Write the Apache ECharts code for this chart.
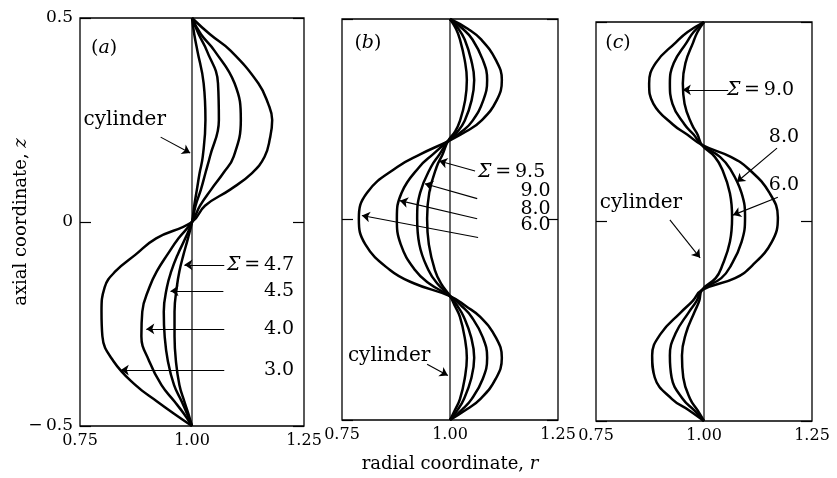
<!DOCTYPE html>
<html>
<head>
<meta charset="utf-8">
<script src="https://cdn.jsdelivr.net/npm/echarts@6/dist/echarts.min.js"></script>
<style>
html,body{margin:0;padding:0;background:#fff;}
#chart{width:837px;height:478px;}
</style>
</head>
<body>
<div id="chart"></div>
<script>
// ---- tick values ----
const R_TICKS = [0.75, 1.00, 1.25];
const Z_TICKS = [-0.5, 0, 0.5];

// ---- panel (a): [r, z] ----
const A_SIGMA_30 = [[1.000,0.500],[1.040,0.460],[1.086,0.420],[1.148,0.340],[1.170,0.290],[1.179,0.250],[1.174,0.205],[1.162,0.160],[1.134,0.120],[1.086,0.080],[1.029,0.040],[1.000,0.000],[0.920,-0.040],[0.874,-0.080],[0.830,-0.120],[0.805,-0.160],[0.798,-0.220],[0.800,-0.280],[0.824,-0.340],[0.874,-0.400],[0.922,-0.440],[0.960,-0.470],[1.000,-0.500]];
const A_SIGMA_40 = [[1.000,0.500],[1.020,0.460],[1.050,0.420],[1.095,0.340],[1.109,0.250],[1.093,0.160],[1.070,0.120],[1.043,0.080],[1.018,0.040],[1.000,0.000],[0.970,-0.040],[0.945,-0.080],[0.922,-0.120],[0.905,-0.160],[0.889,-0.220],[0.887,-0.280],[0.904,-0.340],[0.932,-0.400],[0.961,-0.440],[0.982,-0.470],[1.000,-0.500]];
const A_SIGMA_45 = [[1.000,0.500],[1.015,0.460],[1.033,0.420],[1.058,0.340],[1.060,0.250],[1.040,0.160],[1.030,0.120],[1.020,0.080],[1.008,0.040],[1.000,0.000],[0.985,-0.040],[0.968,-0.080],[0.954,-0.120],[0.944,-0.160],[0.937,-0.220],[0.939,-0.280],[0.946,-0.340],[0.960,-0.400],[0.977,-0.440],[0.989,-0.470],[1.000,-0.500]];
const A_SIGMA_47 = [[1.000,0.500],[1.005,0.460],[1.012,0.420],[1.026,0.340],[1.030,0.250],[1.024,0.160],[1.017,0.120],[1.011,0.080],[1.005,0.040],[1.000,0.000],[0.991,-0.040],[0.981,-0.080],[0.972,-0.120],[0.966,-0.160],[0.961,-0.220],[0.961,-0.280],[0.964,-0.340],[0.972,-0.400],[0.983,-0.440],[0.992,-0.470],[1.000,-0.500]];

// ---- panel (b) ----
const B_SIGMA_60 = [[1.000,0.500],[1.042,0.475],[1.072,0.449],[1.106,0.398],[1.120,0.348],[1.108,0.297],[1.072,0.246],[1.038,0.220],[0.995,0.195],[0.932,0.163],[0.878,0.131],[0.808,0.067],[0.789,0.002],[0.804,-0.062],[0.861,-0.126],[0.916,-0.159],[1.000,-0.191],[1.038,-0.217],[1.070,-0.243],[1.106,-0.294],[1.120,-0.345],[1.106,-0.397],[1.070,-0.448],[1.038,-0.474],[1.000,-0.500]];
const B_SIGMA_80 = [[1.000,0.500],[1.030,0.475],[1.052,0.449],[1.076,0.398],[1.086,0.348],[1.077,0.297],[1.052,0.246],[1.028,0.220],[0.995,0.195],[0.961,0.163],[0.929,0.131],[0.888,0.067],[0.877,0.002],[0.886,-0.062],[0.919,-0.126],[0.951,-0.159],[1.000,-0.191],[1.028,-0.217],[1.050,-0.243],[1.076,-0.294],[1.086,-0.345],[1.076,-0.397],[1.050,-0.448],[1.028,-0.474],[1.000,-0.500]];
const B_SIGMA_90 = [[1.000,0.500],[1.020,0.475],[1.034,0.449],[1.049,0.398],[1.056,0.348],[1.050,0.297],[1.034,0.246],[1.018,0.220],[0.995,0.195],[0.976,0.163],[0.956,0.131],[0.931,0.067],[0.924,0.002],[0.929,-0.062],[0.950,-0.126],[0.970,-0.159],[1.000,-0.191],[1.018,-0.217],[1.032,-0.243],[1.049,-0.294],[1.056,-0.345],[1.049,-0.397],[1.032,-0.448],[1.018,-0.474],[1.000,-0.500]];
const B_SIGMA_95 = [[1.000,0.500],[1.014,0.475],[1.023,0.449],[1.034,0.398],[1.039,0.348],[1.035,0.297],[1.023,0.246],[1.012,0.220],[0.995,0.195],[0.983,0.163],[0.969,0.131],[0.952,0.067],[0.947,0.002],[0.951,-0.062],[0.965,-0.126],[0.979,-0.159],[1.000,-0.191],[1.012,-0.217],[1.023,-0.243],[1.034,-0.294],[1.039,-0.345],[1.034,-0.397],[1.023,-0.448],[1.012,-0.474],[1.000,-0.500]];

// ---- panel (c) ----
const C_SIGMA_60 = [[1.000,0.500],[0.962,0.475],[0.935,0.449],[0.888,0.397],[0.873,0.346],[0.883,0.295],[0.928,0.243],[0.961,0.218],[0.995,0.192],[1.062,0.162],[1.104,0.131],[1.152,0.071],[1.171,0.010],[1.157,-0.051],[1.111,-0.111],[1.072,-0.142],[0.995,-0.172],[0.974,-0.199],[0.947,-0.227],[0.900,-0.281],[0.880,-0.336],[0.886,-0.391],[0.926,-0.445],[0.965,-0.473],[1.000,-0.500]];
const C_SIGMA_80 = [[1.000,0.500],[0.976,0.475],[0.960,0.449],[0.930,0.397],[0.921,0.346],[0.927,0.295],[0.955,0.243],[0.976,0.218],[0.995,0.192],[1.037,0.162],[1.061,0.131],[1.087,0.071],[1.095,0.010],[1.087,-0.051],[1.062,-0.111],[1.040,-0.142],[0.995,-0.172],[0.983,-0.199],[0.965,-0.227],[0.934,-0.281],[0.921,-0.336],[0.925,-0.391],[0.951,-0.445],[0.977,-0.473],[1.000,-0.500]];
const C_SIGMA_90 = [[1.000,0.500],[0.985,0.475],[0.975,0.449],[0.957,0.397],[0.951,0.346],[0.955,0.295],[0.972,0.243],[0.985,0.218],[0.995,0.192],[1.025,0.162],[1.042,0.131],[1.060,0.071],[1.065,0.010],[1.060,-0.051],[1.042,-0.111],[1.027,-0.142],[0.995,-0.172],[0.989,-0.199],[0.978,-0.227],[0.958,-0.281],[0.949,-0.336],[0.952,-0.391],[0.968,-0.445],[0.985,-0.473],[1.000,-0.500]];

const CYLINDER = [[1.0,-0.5],[1.0,0.5]];

const FONT = 'DejaVu Serif';
const BLACK = '#000';

const panels = [
  { grid:{left:80, top:18, width:224, height:408},
    curves:[A_SIGMA_30, A_SIGMA_40, A_SIGMA_45, A_SIGMA_47],
    arrows:[
      [[0.930,0.208],[0.996,0.169]],
      [[1.072,-0.105],[0.983,-0.105]],
      [[1.070,-0.169],[0.952,-0.169]],
      [[1.072,-0.262],[0.898,-0.262]],
      [[1.072,-0.363],[0.841,-0.363]]
    ],
    texts:[
      {p:[0.804,0.426], t:'({i|a})', a:'center'},
      {p:[0.850,0.250], t:'{w|cylinder}', a:'center'},
      {p:[1.228,-0.105], t:'{i|Σ}\u2009=\u20094.7', a:'right'},
      {p:[1.228,-0.169], t:'4.5', a:'right'},
      {p:[1.228,-0.262], t:'4.0', a:'right'},
      {p:[1.228,-0.363], t:'3.0', a:'right'}
    ]},
  { grid:{left:342, top:19, width:216, height:404},
    curves:[B_SIGMA_60, B_SIGMA_80, B_SIGMA_90, B_SIGMA_95],
    arrows:[
      [[1.058,0.121],[0.975,0.146]],
      [[1.063,0.052],[0.942,0.089]],
      [[1.063,0.002],[0.884,0.047]],
      [[1.065,-0.045],[0.796,0.010]],
      [[0.947,-0.361],[0.995,-0.389]]
    ],
    texts:[
      {p:[0.810,0.441], t:'({i|b})', a:'center'},
      {p:[1.065,0.119], t:'{i|Σ}\u2009=\u20099.5', a:'left'},
      {p:[1.233,0.072], t:'9.0', a:'right'},
      {p:[1.233,0.027], t:'8.0', a:'right'},
      {p:[1.233,-0.015], t:'6.0', a:'right'},
      {p:[0.859,-0.339], t:'{w|cylinder}', a:'center'}
    ]},
  { grid:{left:596, top:22, width:216, height:399},
    curves:[C_SIGMA_60, C_SIGMA_80, C_SIGMA_90],
    arrows:[
      [[1.056,0.330],[0.951,0.330]],
      [[1.169,0.184],[1.076,0.099]],
      [[1.171,0.061],[1.067,0.016]],
      [[0.921,0.004],[0.991,-0.091]]
    ],
    texts:[
      {p:[0.801,0.447], t:'({i|c})', a:'center'},
      {p:[1.053,0.330], t:'{i|Σ}\u2009=\u20099.0', a:'left'},
      {p:[1.220,0.212], t:'8.0', a:'right'},
      {p:[1.220,0.091], t:'6.0', a:'right'},
      {p:[0.854,0.046], t:'{w|cylinder}', a:'center'}
    ]}
];

const richAxis = { i:{fontStyle:'italic', fontFamily:FONT, fontSize:18, color:BLACK} };
const richNote = {
  i:{fontStyle:'italic', fontFamily:FONT, fontSize:19, color:BLACK},
  w:{fontFamily:FONT, fontSize:20, color:BLACK}
};

const grids = [], xAxes = [], yAxes = [], series = [];
panels.forEach((pn, k) => {
  grids.push(Object.assign({show:true, borderColor:BLACK, borderWidth:1.3, backgroundColor:'transparent'}, pn.grid));
  xAxes.push({
    type:'value', gridIndex:k, min:R_TICKS[0], max:R_TICKS[R_TICKS.length-1], interval:0.25,
    axisLine:{show:false}, axisTick:{show:false}, splitLine:{show:false},
    axisLabel:{color:BLACK, fontFamily:FONT, fontSize:16, margin:7, formatter:v=>v.toFixed(2)},
    name: k===1 ? 'radial coordinate, {i|r}' : '',
    nameLocation:'middle', nameGap:35, nameMoveOverlap:false,
    nameTextStyle:{color:BLACK, fontFamily:FONT, fontSize:18, rich:richAxis}
  });
});
panels.forEach((pn, k) => {
  yAxes.push({
    type:'value', gridIndex:k, position:'left', min:Z_TICKS[0], max:Z_TICKS[2], interval:0.5,
    axisLine:{show:false}, splitLine:{show:false},
    axisTick:{show:true, inside:true, length:11, lineStyle:{color:BLACK, width:1.2}},
    axisLabel:{show:k===0, color:BLACK, fontFamily:FONT, fontSize:17, margin:7,
      formatter:v=> v<0 ? '\u2212\u2009'+Math.abs(v).toString() : v.toString()},
    name: k===0 ? 'axial coordinate, {i|z}' : '',
    nameLocation:'middle', nameGap:50, nameRotate:90, nameMoveOverlap:false,
    nameTextStyle:{color:BLACK, fontFamily:FONT, fontSize:18, rich:richAxis}
  });
});
panels.forEach((pn, k) => {
  yAxes.push({
    type:'value', gridIndex:k, position:'right', min:Z_TICKS[0], max:Z_TICKS[2], interval:0.5,
    axisLine:{show:false}, splitLine:{show:false}, axisLabel:{show:false},
    axisTick:{show:true, inside:true, length:11, lineStyle:{color:BLACK, width:1.2}}
  });
});

panels.forEach((pn, k) => {
  series.push({type:'line', xAxisIndex:k, yAxisIndex:k, data:CYLINDER, showSymbol:false, silent:true,
    lineStyle:{color:BLACK, width:1.2}, z:2});
  pn.curves.forEach(c => {
    series.push({type:'line', xAxisIndex:k, yAxisIndex:k, data:c, smooth:0.45, showSymbol:false,
      silent:true, lineStyle:{color:BLACK, width:2.5}, z:3});
  });
  series.push({type:'lines', coordinateSystem:'cartesian2d', xAxisIndex:k, yAxisIndex:k,
    symbol:['none','arrow'], symbolSize:8, silent:true,
    lineStyle:{color:BLACK, width:1.1, opacity:1, curveness:0},
    data: pn.arrows.map(a => ({coords:a})), z:4});
  series.push({type:'scatter', xAxisIndex:k, yAxisIndex:k, symbolSize:0, silent:true, z:5,
    itemStyle:{opacity:1},
    data: pn.texts.map(o => ({value:o.p, label:{align:o.a}})),
    label:{show:true, position:'inside', color:BLACK, opacity:1, fontFamily:FONT, fontSize:19,
      verticalAlign:'middle', rich:richNote,
      formatter: (prm) => pn.texts[prm.dataIndex].t}
  });
});

const chart = echarts.init(document.getElementById('chart'), null, {renderer:'canvas'});
chart.setOption({
  animation:false,
  backgroundColor:'#fff',
  grid:grids, xAxis:xAxes, yAxis:yAxes, series:series
});
</script>
</body>
</html>
